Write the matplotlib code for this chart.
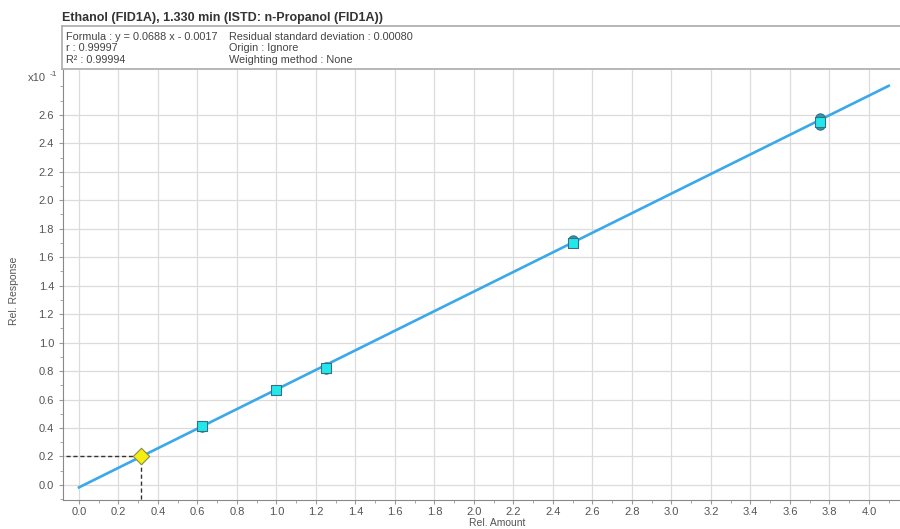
import matplotlib.pyplot as plt
import numpy as np

plt.rcParams["font.family"] = ["Liberation Sans", "DejaVu Sans"]

# calibration data (response shown in units of x10^-1)
amount_rep = [0.625, 1.0, 1.25, 1.25, 2.5, 2.5, 3.75, 3.75, 3.75]
response_rep = [0.405, 0.665, 0.815, 0.83, 1.70, 1.72, 2.53, 2.58, 2.55]
amount_sq = [0.625, 1.0, 1.25, 2.5, 3.75]
response_sq = [0.415, 0.67, 0.825, 1.70, 2.55]
slope, intercept = 0.0688, -0.0017
sample_amount, sample_response = 0.315, 0.20

title = "Ethanol (FID1A), 1.330 min (ISTD: n-Propanol (FID1A))"
info_left = ["Formula : y = 0.0688 x - 0.0017", "r : 0.99997", "R\u00b2 : 0.99994"]
info_right = ["Residual standard deviation : 0.00080", "Origin : Ignore", "Weighting method : None"]

fig = plt.figure(figsize=(9, 5.29), dpi=100)
ax = fig.add_axes([0.07, 0.055, 0.93, 0.813])

fit_x = np.array([0.0, 4.1])
fit_y = 10 * (slope * fit_x + intercept)
ax.plot(fit_x, fit_y, color="#3aa8ea", lw=1.9, zorder=3)

ax.scatter(amount_rep, response_rep, s=45, marker="o", color="#2b9bb5",
           edgecolor="#3a6f80", lw=0.8, zorder=4)
ax.scatter(amount_sq, response_sq, s=45, marker="s", color="#22e8ec",
           edgecolor="#3a6f80", lw=0.8, zorder=5)

ax.plot([-0.1, sample_amount], [sample_response, sample_response], ls=(0, (3, 2)),
        color="#333333", lw=1, zorder=2)
ax.plot([sample_amount, sample_amount], [-0.2, sample_response], ls=(0, (3, 2)),
        color="#333333", lw=1, zorder=2)
ax.scatter([sample_amount], [sample_response], s=70, marker="D", color="#f5ee10",
           edgecolor="#8a8a40", lw=0.8, zorder=6)

ax.set_xlim(-0.081, 4.157)
ax.set_ylim(-0.105, 2.916)
ax.set_xticks(np.arange(0, 4.01, 0.2))
ax.set_xticks(np.arange(-0.0, 4.15, 0.1), minor=True)
ax.set_yticks(np.arange(0, 2.61, 0.2))
ax.set_yticks(np.arange(-0.1, 2.9, 0.1), minor=True)
ax.set_xticklabels([f"{v:.1f}" for v in np.arange(0, 4.01, 0.2)])
ax.set_yticklabels([f"{v:.1f}" for v in np.arange(0, 2.61, 0.2)])
ax.tick_params(which="both", colors="#999999", labelcolor="#555555", labelsize=8,
               direction="out")
ax.tick_params(which="major", length=3)
ax.tick_params(axis="x", which="major", pad=2)
ax.tick_params(which="minor", length=2)
ax.grid(True, which="major", color="#dcdcdc", lw=0.9)
ax.set_axisbelow(True)
for side in ["top", "right"]:
    ax.spines[side].set_visible(False)
for side in ["left", "bottom"]:
    ax.spines[side].set_color("#888888")

fig.text(0.552, 0.011, "Rel. Amount", fontsize=7.5, color="#555555", ha="center", va="center")
fig.text(0.016, 0.45, "Rel. Response", rotation=90, fontsize=7.5, color="#555555",
         ha="center", va="center")
fig.text(0.031, 0.852, "x10", fontsize=8, color="#555555", va="center")
fig.text(0.055, 0.860, "-1", fontsize=6, color="#555555", va="center")

# header
fig.text(0.069, 0.966, title, fontsize=9, color="#333333", fontweight="bold", va="center")
fig.add_artist(plt.Line2D([0.069, 1.0], [0.950, 0.950], color="#aaaaaa", lw=1.2))
fig.add_artist(plt.Line2D([0.069, 1.0], [0.869, 0.869], color="#aaaaaa", lw=1.2))
fig.add_artist(plt.Line2D([0.069, 0.069], [0.869, 0.950], color="#aaaaaa", lw=1.2))
for i, (a, b) in enumerate(zip(info_left, info_right)):
    y = 0.931 - i * 0.0225
    fig.text(0.073, y, a, fontsize=7.8, color="#444444", va="center")
    fig.text(0.254, y, b, fontsize=7.8, color="#444444", va="center")

fig.savefig("out.png", facecolor="white")
